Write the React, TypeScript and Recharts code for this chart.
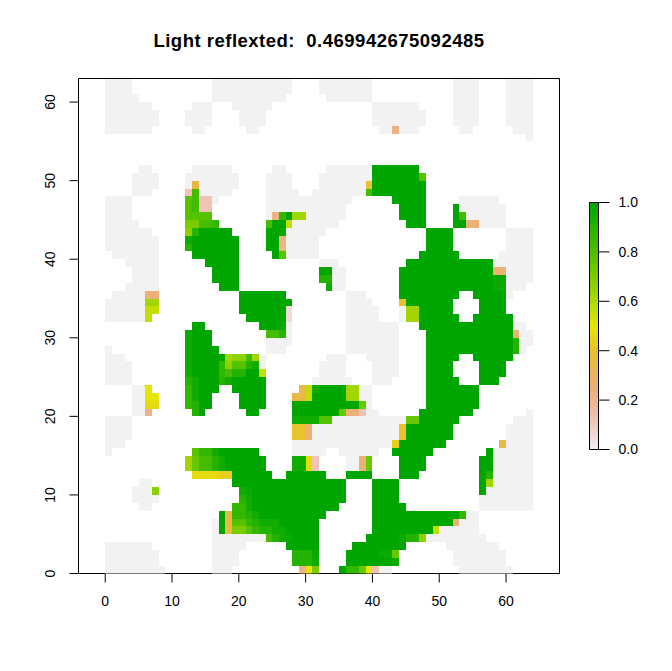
import React from "react";
import { ScatterChart, Scatter, XAxis, YAxis, ReferenceArea, BarChart, Bar } from "recharts";

const TITLE = "Light reflexted:  0.469942675092485";
const X_TICKS = [0, 10, 20, 30, 40, 50, 60];
const Y_TICKS = [0, 10, 20, 30, 40, 50, 60];
const BAR_TICKS = [0, 0.2, 0.4, 0.6, 0.8, 1];
const BAR_STOPS = [0, 0.05, 0.1, 0.15, 0.2, 0.25, 0.3, 0.35, 0.4, 0.45, 0.5, 0.55, 0.6, 0.65, 0.7, 0.75, 0.8, 0.85, 0.9, 0.95, 1];

// level symbol -> value
const LEVELS: Record<string, number> = {
  ".": 0, p: 0.05, q: 0.12, r: 0.22, s: 0.25, t: 0.35, u: 0.4, v: 0.44, w: 0.47, y: 0.5,
  A: 0.56, B: 0.62, C: 0.66, D: 0.7, E: 0.74, F: 0.78, G: 0.82, H: 0.86, I: 0.9, J: 0.95, K: 0.97, "#": 1,
};

// rows from y=62 down to y=0; each token is column or column range + level symbol
const ROWS = [
  "0-3. 16-27. 32-39. 52-55. 60-63.",
  "0-3. 16-27. 32-39. 52-55. 60-63.",
  "0-4. 16-26. 33-39. 52-55. 60-63.",
  "0-6. 13-15. 19-24. 40-46. 52-55. 60-63.",
  "0-7. 12-15. 20-23. 40-47. 52-55. 60-63.",
  "0-7. 12-15. 20-23. 40-47. 52-55. 60-63.",
  "0-6. 13-14. 21-22. 41-46. 43r 53-54. 61-63.",
  "63.",
  "",
  "",
  "",
  "5-6. 13-18. 25-26. 33-39. 40-46#",
  "4-7. 12-19. 24-27. 32-39. 40-46# 47F",
  "4-7. 12. 13t 14-19. 24-27. 32-38. 39u 40-47#",
  "4-6. 12q 13G 14-18. 24-28. 31-38. 39G 40-47#",
  "0-3. 12F 13G 14-15q 16. 24-36. 43-47# 53-58.",
  "0-3. 12F 13G 14-15q 24-35. 44-47# 52# 53-59.",
  "0-3. 12-15F 24. 25r 26H 27# 28-29B 30-35. 44-47# 52# 53G 54-59.",
  "0-4. 12-13D 14-15G 16H 24G 25-26# 27A 28-34. 45-47# 52-53# 54-55s 56-59.",
  "0-6. 12C 13I 14-18# 24-25# 26K 27-32. 48-51# 60-63.",
  "0-7. 12K 13-19# 24-25# 26r 27-31. 48-51# 60-63.",
  "0-7. 12I 13-19# 24-25# 26r 27-31. 48-51# 60-63.",
  "1-7. 13-19# 25# 26F 27-31. 47-52# 59-63.",
  "3-7. 15-19# 32-34. 45-57# 58-63.",
  "4-7. 16-19# 32-33# 34-35. 44-57# 58-59s 60-63.",
  "4-7. 16-19# 32-33I 34-35. 44-57# 58-59K 60-63.",
  "3-7. 17-19# 33J 34-35. 44-57# 58-59K 60-62.",
  "1-5. 6-7s 20-26# 36-38. 44-52# 55-59# 60.",
  "0-5. 6-7B 20-27# 36-39. 44u 45-51# 56-59#",
  "0-5. 6-7A 20-26# 27p 36-40. 44. 45-46B 47-51# 56-59#",
  "0-5. 6A 21-26# 27p 36-40. 44. 45-46B 47-52# 55-60#",
  "13-14# 23-25# 26K 27. 36-43. 47-60# 61-62.",
  "12K 13-15# 24-25G 26I 27. 36-43. 48-60# 61s 62-63.",
  "12K 13-15# 24-27. 36-43. 48-60# 61I 62-63.",
  "0. 12K 13-16# 24-26. 36-43. 48-60# 61I 62.",
  "0-2. 12K 13-17# 18B 19-20C 21G 22B 23. 33-35. 39-43. 48-52# 55-60#",
  "0-3. 12K 13-16# 17H 18C 19-20F 21I 22J 23. 32-35. 40-43. 48-51# 56-59#",
  "0-3. 12J 13-16# 17H 18G 19-20I 21-22# 23A 32-35. 40-43. 48-51# 56-59#",
  "0-3. 12I 13J 14-16# 17I 18J 19-23# 31-36. 40-42. 48-52# 56-58#",
  "4-5. 6y 12H 13J 14-16# 19-23# 29t 30A 31J 32-35# 36-37B 38-39. 48-55#",
  "4-5. 6-7y 12H 13J 14-15# 20-23# 28-29t 30A 31-35# 36-37B 38-39. 48-55#",
  "4-5. 6-7w 12H 13I 14-15# 20-23# 28-37# 38E 39. 48-55#",
  "4-5. 6r 13I 14# 21-22# 28-34# 35E 36-37s 38q 39-40. 47-54# 63.",
  "0-3. 28-31J 32-33F 34-44. 45-46E 47-52# 61-63.",
  "0-3. 28-29u 30s 31-43. 44u 45-51# 60-63.",
  "0-3. 28-29u 30s 31-43. 44u 45-51# 60-63.",
  "0-2. 28-42. 43v 44-50# 59t 60-63.",
  "0. 13F 14-15H 16J 17-22# 28-32. 35-40. 43-48# 57# 58-63.",
  "12B 13E 14-15G 16I 17J 18-23# 28-29J 30w 31q 36-37. 38s 39E 44-47# 56-57# 58-63.",
  "12B 13E 14-15G 16I 17J 18-23# 28-29J 30w 31q 36-37. 38s 39E 44-47# 56-57# 58-63.",
  "13-16w 17-18v 19-24# 27-32# 36-39# 44-46# 56# 57I 58-63.",
  "5-6. 19-35# 40-43# 56# 57B 58-63.",
  "4-6. 7C 20J 21K 22-35# 40-43# 56# 57-63.",
  "4-7. 20I 21J 22-35# 40-43# 56-63.",
  "5-6. 19-20H 21J 22-34# 40-44# 56-63.",
  "17# 18t 19-20H 21I 22J 23-32# 40-52# 53H 54-55.",
  "16. 17# 18t 19-20F 21H 22I 23-25J 26-31# 40-51# 52s 53-55.",
  "16. 17# 18t 19-20D 21F 22H 23-24I 25-26J 27-31# 40-48# 49A 50-55.",
  "16-23. 24G 25I 26J 27K 28-31# 39-43# 44K 45-46I 47C 48-56.",
  "0-6. 16-20. 27-31# 37-44# 51-58.",
  "0-7. 16-19. 28-30I 31K 36-40# 41-42K 43E 52-59.",
  "0-7. 16-19. 28-30I 31J 36-42# 43K 52-59.",
  "0-8. 16-18. 29r 30y 31D 35# 36-37H 38E 39y 40q 41-42. 53-60.",
];

function hsv(h: number, s: number, v: number) {
  const i = Math.floor(h * 6);
  const f = h * 6 - i;
  const p = v * (1 - s), q = v * (1 - f * s), t = v * (1 - (1 - f) * s);
  const [r, g, b] = [[v, t, p], [q, v, p], [p, v, t], [p, q, v], [t, p, v], [v, p, q]][i % 6];
  return `rgb(${Math.round(r * 255)},${Math.round(g * 255)},${Math.round(b * 255)})`;
}
// the terrain palette
function terrain(z: number) {
  if (z >= 0.5) {
    const t = (1 - z) / 0.5;
    return hsv(1 / 3 - t / 6, 1, 0.65 + 0.25 * t);
  }
  const t = (0.5 - z) / 0.5;
  return hsv((1 - t) / 6, 1 - t, 0.9 + 0.05 * t);
}

type Cell = { x: number; y: number; value: number };
const CELLS: Cell[] = ROWS.flatMap((row, i) => {
  const m = new Map<number, number>();
  for (const tok of row.split(" ").filter(Boolean)) {
    const r = tok.match(/^(\d+)(?:-(\d+))?(.)$/)!;
    const a = +r[1], b = r[2] ? +r[2] : a;
    for (let c = a; c <= b; c++) m.set(c, LEVELS[r[3]]);
  }
  return [...m.entries()].map(([c, value]) => ({ x: c + 0.5, y: 62 - i + 0.5, value }));
});
const BAR_DATA = [{ name: "scale", top: 1 }];

const W = 672, H = 671;
const PLOT = { left: 78.5, right: 559.5, top: 78.5, bottom: 573.5 };
const BAR = { left: 589.5, right: 598.5, top: 202.5, bottom: 449.5 };
const X_DOMAIN: [number, number] = [-4, 68];
const Y_DOMAIN: [number, number] = [0, 63];
const CW = (PLOT.right - PLOT.left) / (X_DOMAIN[1] - X_DOMAIN[0]);
const CH = (PLOT.bottom - PLOT.top) / (Y_DOMAIN[1] - Y_DOMAIN[0]);
const FONT = "'Liberation Sans', Arial, sans-serif";
const TICK_COLOR = "#000";
const TICK_FONT = 14;

// snap a cell edge to a whole pixel; the small nudge keeps neighbours on the same pixel
const snap = (v: number) => Math.round(v + 1e-4);

function CellShape(props: any) {
  const { cx, cy, payload } = props;
  const x0 = snap(cx - CW / 2), x1 = snap(cx + CW / 2);
  const y0 = snap(cy - CH / 2), y1 = snap(cy + CH / 2);
  return <rect x={x0} y={y0} width={x1 - x0} height={y1 - y0} fill={terrain(payload.value)} shapeRendering="crispEdges" />;
}

function RotatedTick(props: any) {
  const { y, payload } = props;
  return (
    <text x={50} y={y} transform={`rotate(-90 50 ${y})`} textAnchor="middle" dominantBaseline="central"
      fontFamily={FONT} fontSize={TICK_FONT} fill={TICK_COLOR}>
      {payload.value}
    </text>
  );
}

export default function App() {
  return (
    <div style={{ position: "absolute", left: 0, top: 0, width: W, height: H, background: "#fff" }}>
      <div style={{ position: "absolute", left: 0, top: 0 }}>
        <ScatterChart width={W} height={H}
          margin={{ left: PLOT.left - 40, right: W - PLOT.right, top: PLOT.top, bottom: H - PLOT.bottom - 40 }}>
          <XAxis type="number" dataKey="x" domain={X_DOMAIN} ticks={X_TICKS} height={40} tickSize={9} tickMargin={14}
            axisLine={false} interval={0} allowDataOverflow
            tick={{ fontFamily: FONT, fontSize: TICK_FONT, fill: TICK_COLOR }} tickLine={{ stroke: "#000", strokeWidth: 1 }} />
          <YAxis type="number" dataKey="y" domain={Y_DOMAIN} ticks={Y_TICKS} width={40} tickSize={9} axisLine={false}
            interval={0} allowDataOverflow tick={<RotatedTick />} tickLine={{ stroke: "#000", strokeWidth: 1 }} />
          <Scatter data={CELLS} shape={<CellShape />} isAnimationActive={false} />
          <ReferenceArea x1={X_DOMAIN[0]} x2={X_DOMAIN[1]} y1={Y_DOMAIN[0]} y2={Y_DOMAIN[1]} fill="none" stroke="#000" strokeWidth={1} fillOpacity={0} />
          <text x={(PLOT.left + PLOT.right) / 2} y={47} textAnchor="middle" fontFamily={FONT} fontWeight="bold"
            fontSize={18.5} letterSpacing={0.5} fill="#000" style={{ whiteSpace: "pre" }}>
            {TITLE}
          </text>
        </ScatterChart>
      </div>
      <div style={{ position: "absolute", left: 0, top: 0 }}>
        <BarChart width={W} height={H} data={BAR_DATA} barCategoryGap={0}
          margin={{ left: BAR.left, right: W - BAR.right - 60, top: BAR.top, bottom: H - BAR.bottom }}>
          <defs>
            <linearGradient id="terrainBar" x1="0" y1="1" x2="0" y2="0">
              {BAR_STOPS.map((s) => <stop key={s} offset={s} stopColor={terrain(s)} />)}
            </linearGradient>
          </defs>
          <XAxis dataKey="name" hide />
          <YAxis orientation="right" type="number" domain={[0, 1]} ticks={BAR_TICKS} width={60} tickSize={11} tickMargin={9}
            axisLine={false} interval={0} tickFormatter={(v: number) => v.toFixed(1)}
            tick={{ fontFamily: FONT, fontSize: TICK_FONT, fill: TICK_COLOR }} tickLine={{ stroke: "#000", strokeWidth: 1 }} />
          <Bar dataKey="top" fill="url(#terrainBar)" stroke="#000" strokeWidth={1} isAnimationActive={false} />
        </BarChart>
      </div>
    </div>
  );
}
